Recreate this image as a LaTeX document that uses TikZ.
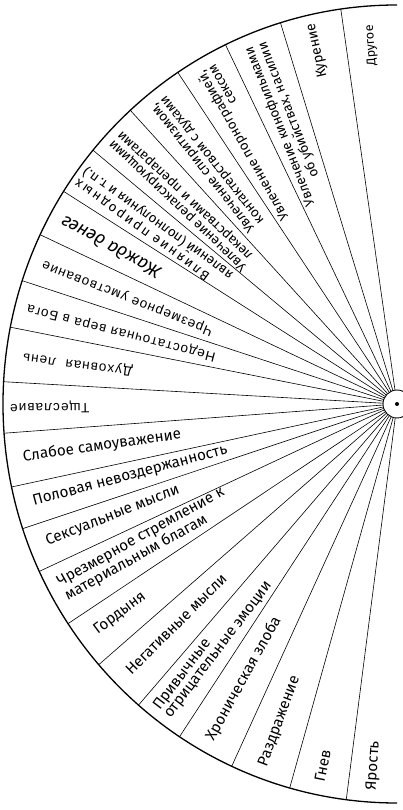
\documentclass[tikz,border=0pt]{standalone}
\usepackage{fontspec}
\setmainfont{Fira Sans}
\newfontfamily\spacedfont[LetterSpace=16]{Fira Sans}
\newfontfamily\widefont[LetterSpace=8]{Liberation Sans}

\tikzset{
  lab/.style={inner sep=0pt, font=\fontsize{15.2}{13.5}\selectfont},
  uplab/.style={lab, anchor=east, align=right},
  lowlab/.style={lab, anchor=west, align=left},
  toplab/.style={uplab, font=\fontsize{13.5}{12.5}\selectfont},
  widelab/.style={uplab, font=\widefont\fontsize{13.5}{13}\selectfont},
}

\begin{document}
\begin{tikzpicture}[x=1pt,y=1pt]
  \useasboundingbox (-397,-406) rectangle (6,404);
  % half disc and spokes
  \draw[line width=1.3pt] (90:394 and 399)
    arc[start angle=90, end angle=270, x radius=394, y radius=399];
  \foreach \a in {98.2,107.2,115.8,123.8,132.6,140.5,147.8,154.9,162,168.9,
                  176.8,184.2,192,198.2,204.8,213.4,220.8,229,236.5,245.2,254.2,262.6}
    \draw[line width=0.6pt] (0,0) -- (\a:394 and 399);
  \filldraw[line width=0.9pt, fill=white] (0,0) circle (14);
  \fill (0,0) circle (2);
  % upper half, read outwards
  \node[uplab, font=\fontsize{12.5}{12.5}\selectfont, rotate=94.1]
    (other) at (94.1:380) {Другое};
  \node[uplab, font=\fontsize{14}{14}\selectfont, rotate=102.7]
    (smoke) at (102.7:390) {Курение};
  \foreach \a/\r/\t [count=\i] in {
      111.5/386/{Увлечение кинофильмами\\об убийствах, насилии},
      119.8/386/{Увлечение порнографией,\\сексом},
      128.2/386/{Увлечение спиритизмом,\\контактерством с духами},
      136.55/388/{Увлечение релаксирующими\\лекарствами и препаратами}}
    \node[toplab, rotate=\a] (up\i) at (\a:\r) {\t};
  \node[toplab, font=\fontsize{13.5}{14.5}\selectfont, rotate=144.15]
    (nature) at (144.15:390)
    {{\spacedfont Влияние природных}\\явлений (полнолуния и т.\,п.)};
  \node[uplab, font=\itshape\fontsize{18}{18}\selectfont, rotate=151.35]
    (money) at (151.35:382) {Жажда денег};
  \foreach \a/\r/\t [count=\i] in {158.45/381/Чрезмерное умствование,
      165.45/382/Недостаточная вера в Бога,
      172.85/377/Духовная~~лень, 180.5/387/Тщеславие}
    \node[widelab, rotate=\a] (mid\i) at (\a:\r) {\t};
  % lower half, read inwards
  \foreach \a/\r/\t [count=\i] in {188.1/378/Слабое самоуважение,
      195.1/377/Половая невоздержанность, 201.5/377/Сексуальные мысли,
      209.1/383/{Чрезмерное стремление к\\материальным благам},
      217.1/378/Гордыня, 224.9/380/Негативные мысли,
      232.75/388/{Привычные\\отрицательные эмоции},
      240.85/384/Хроническая злоба, 249.7/386/Раздражение,
      258.4/386/Гнев, 266.3/387/Ярость}
    \node[lowlab, rotate=\a-180] (low\i) at (\a:\r) {\t};
\end{tikzpicture}
\end{document}
